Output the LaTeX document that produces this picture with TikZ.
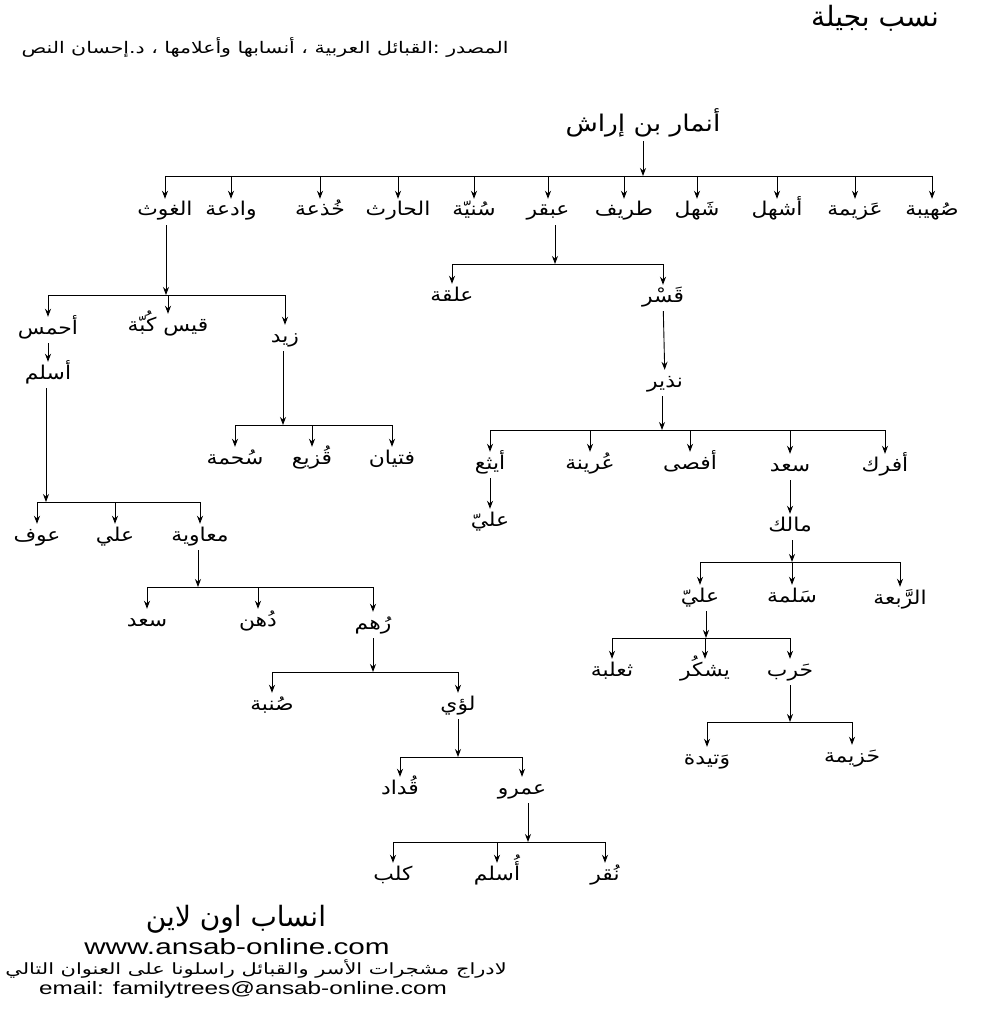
\documentclass[tikz,border=0pt]{standalone}
\usepackage{fontspec}
\usepackage{graphicx}
\setmainfont{Liberation Sans}
\newfontfamily\arabicfont[Script=Arabic]{DejaVu Sans}
\TeXXeTstate=1
\usetikzlibrary{arrows.meta,positioning}
\newcommand{\AR}[1]{{\arabicfont\beginR #1\endR}}
\newcommand{\NM}[1]{\scalebox{1.15}[1]{\AR{#1}}}
\newcommand{\WIDE}[1]{\scalebox{1.35}[1]{#1}}
\tikzset{
  nm/.style={font=\fontsize{19}{21}\selectfont, inner sep=1pt,
             text height=16pt, text depth=8pt, anchor=center},
  rootn/.style={nm, font=\fontsize{23}{25}\selectfont},
  ar/.style={-{Stealth[length=8pt,width=6pt]}, line width=0.9pt},
  bar/.style={line width=0.9pt},
  foot/.style={inner sep=0pt, anchor=center},
}

\begin{document}
\begin{tikzpicture}[x=1pt, y=-1pt]
\fill[white] (0,0) rectangle (982,1024);
\useasboundingbox (0,0) rectangle (982,1024);

% ---- header ----
\node[foot, font=\fontsize{28}{30}\selectfont] (title) at (875,18) {\AR{نسب بجيلة}};
\node[foot, font=\fontsize{16}{18}\selectfont] (source) at (265,47)
  {\scalebox{1.28}[1]{\AR{المصدر :القبائل العربية ، أنسابها وأعلامها ، د.إحسان النص}}};

% ---- root ----
\node[rootn] (root) at (643,128) {\NM{أنمار بن إراش}};

% ---- sons of Anmar ----
\node[nm] (ghawth)  at (165,212) {\NM{الغوث}};
\node[nm] (wadia)   at (231,212) {\NM{وادعة}};
\node[nm] (khadha)  at (320,212) {\NM{خُذعة}};
\node[nm] (harith)  at (398,212) {\NM{الحارث}};
\node[nm] (sunayya) at (474,212) {\NM{سُنيّة}};
\node[nm] (abqar)   at (548,212) {\NM{عبقر}};
\node[nm] (tarif)   at (624,212) {\NM{طريف}};
\node[nm] (shahl)   at (697,212) {\NM{شَهل}};
\node[nm] (ashhal)  at (777,212) {\NM{أشهل}};
\node[nm] (azima)   at (855,212) {\NM{عَزيمة}};
\node[nm] (suhayba) at (932,212) {\NM{صُهيبة}};

% ---- right branch ----
\node[nm] (alqa)    at (452,297) {\NM{علقة}};
\node[nm] (qasr)    at (663,298) {\NM{قَسْر}};
\node[nm] (nadhir)  at (665,383) {\NM{نذير}};
\node[nm] (aythaa)  at (490,465) {\NM{أيثع}};
\node[nm] (urayna)  at (590,465) {\NM{عُرينة}};
\node[nm] (afsa)    at (690,465) {\NM{أفصى}};
\node[nm] (saad)    at (790,467) {\NM{سعد}};
\node[nm] (afrak)   at (885,467) {\NM{أفرك}};
\node[nm] (alia)    at (490,522) {\NM{عليّ}};
\node[nm] (malik)   at (790,527) {\NM{مالك}};
\node[nm] (alib)    at (700,598) {\NM{عليّ}};
\node[nm] (salama)  at (792,598) {\NM{سَلمة}};
\node[nm] (rabaa)   at (900,600) {\NM{الرَّبعة}};
\node[nm] (thalaba) at (612,672) {\NM{ثعلبة}};
\node[nm] (yashkur) at (705,672) {\NM{يشكُر}};
\node[nm] (harb)    at (790,672) {\NM{حَرب}};
\node[nm] (watida)  at (707,760) {\NM{وَتيدة}};
\node[nm] (hazima)  at (852,758) {\NM{حَزيمة}};

% ---- left branch ----
\node[nm] (ahmas)   at (48,330)  {\NM{أحمس}};
\node[nm] (qays)    at (168,327) {\NM{قيس كُبّة}};
\node[nm] (zayd)    at (285,338) {\NM{زيد}};
\node[nm] (aslama)  at (48,375)  {\NM{أسلم}};
\node[nm] (suhma)   at (235,460) {\NM{سُحمة}};
\node[nm] (quzay)   at (312,460) {\NM{قُزيع}};
\node[nm] (fityan)  at (392,460) {\NM{فتيان}};
\node[nm] (awf)     at (37,537)  {\NM{عوف}};
\node[nm] (alic)    at (115,537) {\NM{علي}};
\node[nm] (muawiya) at (200,537) {\NM{معاوية}};
\node[nm] (saadb)   at (147,622) {\NM{سعد}};
\node[nm] (duhn)    at (258,622) {\NM{دُهن}};
\node[nm] (ruhm)    at (373,625) {\NM{رُهم}};
\node[nm] (sunba)   at (272,706) {\NM{صُنبة}};
\node[nm] (luayy)   at (458,706) {\NM{لؤي}};
\node[nm] (qudad)   at (400,790) {\NM{قُداد}};
\node[nm] (amr)     at (522,790) {\NM{عمرو}};
\node[nm] (kalb)    at (393,876) {\NM{كلب}};
\node[nm] (aslamb)  at (497,876) {\NM{أُسلم}};
\node[nm] (nuqar)   at (605,876) {\NM{نُقر}};

% ---- footer ----
\node[foot, font=\fontsize{28}{30}\selectfont] (site) at (236,919) {\AR{انساب اون لاين}};
\node[foot, font=\fontsize{22}{24}\selectfont] (www) at (237,947) {\WIDE{www.ansab-online.com}};
\node[foot, font=\fontsize{15.5}{17}\selectfont] (note) at (256,969)
  {\WIDE{\AR{لادراج مشجرات الأسر والقبائل راسلونا على العنوان التالي}}};
\node[foot, font=\fontsize{18}{20}\selectfont] (mail) at (243,990) {\WIDE{email: familytrees@ansab-online.com}};

% ---- junction rows ----
\coordinate (j0) at (643,176);
\coordinate (j1) at (555,264);
\coordinate (j2) at (662,430);
\coordinate (j3) at (792,562);
\coordinate (j4) at (706,638);
\coordinate (j5) at (790,722);
\coordinate (j6) at (166,295);
\coordinate (j7) at (283,425);
\coordinate (j8) at (46,502);
\coordinate (j9) at (198,587);
\coordinate (j10) at (373,672);
\coordinate (j11) at (458,757);
\coordinate (j12) at (528,842);

% ---- edges: Anmar ----
\draw[ar] (root) -- (j0);
\draw[bar] (ghawth |- j0) -- (suhayba |- j0);
\draw[ar] (ghawth |- j0) -- (ghawth);
\draw[ar] (wadia |- j0) -- (wadia);
\draw[ar] (khadha |- j0) -- (khadha);
\draw[ar] (harith |- j0) -- (harith);
\draw[ar] (sunayya |- j0) -- (sunayya);
\draw[ar] (abqar |- j0) -- (abqar);
\draw[ar] (tarif |- j0) -- (tarif);
\draw[ar] (shahl |- j0) -- (shahl);
\draw[ar] (ashhal |- j0) -- (ashhal);
\draw[ar] (azima |- j0) -- (azima);
\draw[ar] (suhayba |- j0) -- (suhayba);

% ---- edges: Abqar ----
\draw[ar] (abqar.south -| j1) -- (j1);
\draw[bar] (alqa |- j1) -- (qasr |- j1);
\draw[ar] (alqa |- j1) -- (alqa);
\draw[ar] (qasr |- j1) -- (qasr);
\draw[ar] (qasr) -- (nadhir);
\draw[ar] (nadhir.south -| j2) -- (j2);
\draw[bar] (aythaa |- j2) -- (afrak |- j2);
\draw[ar] (aythaa |- j2) -- (aythaa);
\draw[ar] (urayna |- j2) -- (urayna);
\draw[ar] (afsa |- j2) -- (afsa);
\draw[ar] (saad |- j2) -- (saad);
\draw[ar] (afrak |- j2) -- (afrak);
\draw[ar] (aythaa) -- (alia);
\draw[ar] (saad) -- (malik);
\draw[ar] (malik.south -| j3) -- (j3);
\draw[bar] (alib |- j3) -- (rabaa |- j3);
\draw[ar] (alib |- j3) -- (alib);
\draw[ar] (salama |- j3) -- (salama);
\draw[ar] (rabaa |- j3) -- (rabaa);
\draw[ar] (alib.south -| j4) -- (j4);
\draw[bar] (thalaba |- j4) -- (harb |- j4);
\draw[ar] (thalaba |- j4) -- (thalaba);
\draw[ar] (yashkur |- j4) -- (yashkur);
\draw[ar] (harb |- j4) -- (harb);
\draw[ar] (harb.south -| j5) -- (j5);
\draw[bar] (watida |- j5) -- (hazima |- j5);
\draw[ar] (watida |- j5) -- (watida);
\draw[ar] (hazima |- j5) -- (hazima);

% ---- edges: al-Ghawth ----
\draw[ar] (ghawth.south -| j6) -- (j6);
\draw[bar] (ahmas |- j6) -- (zayd |- j6);
\draw[ar] (ahmas |- j6) -- (ahmas);
\draw[ar] (qays |- j6) -- (qays);
\draw[ar] (zayd |- j6) -- (zayd);
\draw[ar] (ahmas) -- (aslama);
\draw[ar] (zayd.south -| j7) -- (j7);
\draw[bar] (suhma |- j7) -- (fityan |- j7);
\draw[ar] (suhma |- j7) -- (suhma);
\draw[ar] (quzay |- j7) -- (quzay);
\draw[ar] (fityan |- j7) -- (fityan);
\draw[ar] (aslama.south -| j8) -- (j8);
\draw[bar] (awf |- j8) -- (muawiya |- j8);
\draw[ar] (awf |- j8) -- (awf);
\draw[ar] (alic |- j8) -- (alic);
\draw[ar] (muawiya |- j8) -- (muawiya);
\draw[ar] (muawiya.south -| j9) -- (j9);
\draw[bar] (saadb |- j9) -- (ruhm |- j9);
\draw[ar] (saadb |- j9) -- (saadb);
\draw[ar] (duhn |- j9) -- (duhn);
\draw[ar] (ruhm |- j9) -- (ruhm);
\draw[ar] (ruhm.south -| j10) -- (j10);
\draw[bar] (sunba |- j10) -- (luayy |- j10);
\draw[ar] (sunba |- j10) -- (sunba);
\draw[ar] (luayy |- j10) -- (luayy);
\draw[ar] (luayy.south -| j11) -- (j11);
\draw[bar] (qudad |- j11) -- (amr |- j11);
\draw[ar] (qudad |- j11) -- (qudad);
\draw[ar] (amr |- j11) -- (amr);
\draw[ar] (amr.south -| j12) -- (j12);
\draw[bar] (kalb |- j12) -- (nuqar |- j12);
\draw[ar] (kalb |- j12) -- (kalb);
\draw[ar] (aslamb |- j12) -- (aslamb);
\draw[ar] (nuqar |- j12) -- (nuqar);

\end{tikzpicture}
\end{document}
